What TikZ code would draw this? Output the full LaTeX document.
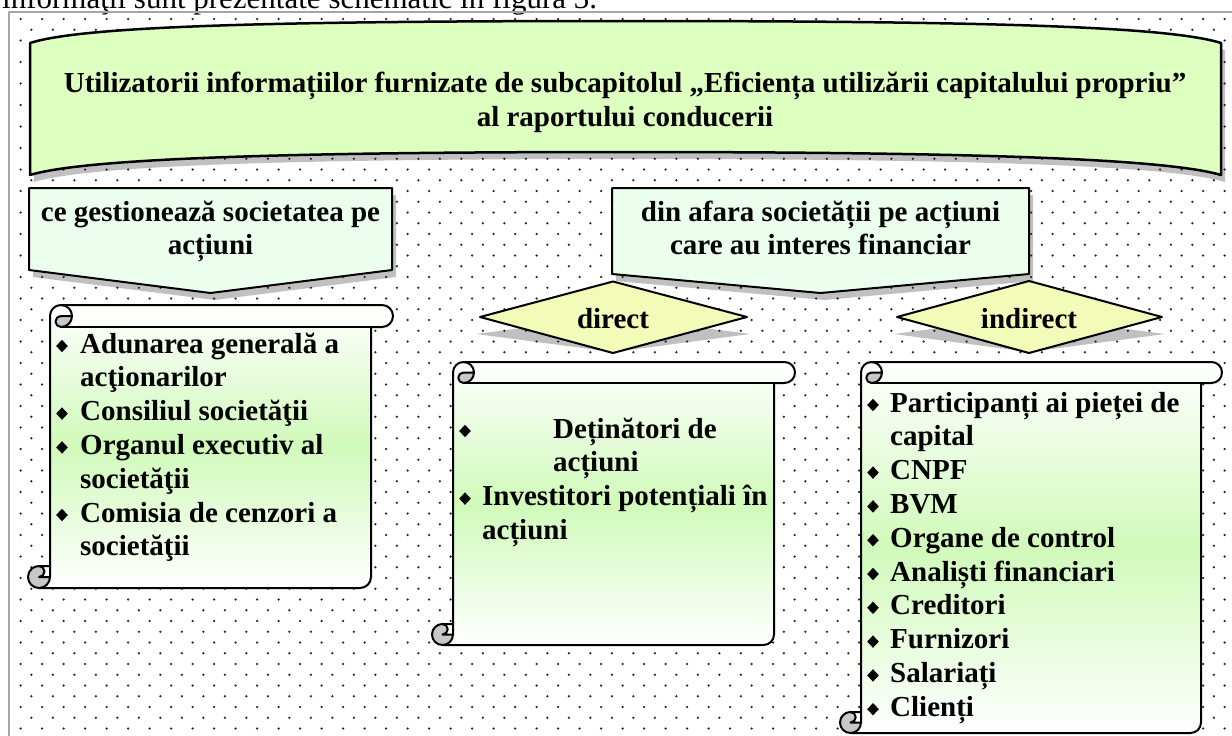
\documentclass[tikz,border=0pt]{standalone}
\usepackage{fontspec}
\setmainfont{Liberation Serif}
\definecolor{bannerfill}{RGB}{221,255,192}
\definecolor{calloutfill}{RGB}{236,255,238}
\definecolor{diafill}{RGB}{243,251,184}
\definecolor{scrollgreen}{RGB}{208,250,186}
\definecolor{shadowgray}{RGB}{192,192,192}
\definecolor{framegray}{RGB}{165,165,165}
\definecolor{dotcol}{RGB}{35,35,35}
\definecolor{curlgray}{RGB}{200,200,200}
\tikzset{
  txt/.style={font=\fontsize{29}{33.8}\selectfont\bfseries, inner sep=0pt},
  shapeline/.style={draw=black, line width=2},
  shadowfill/.style={fill=shadowgray},
}
\newcommand\myscroll[5]{%
  \pgfmathsetmacro\scrh{#5/2}%
  \pgfmathsetmacro\scrq{#5/4}%
  \pgfmathsetmacro\scxa{#1+#5/2}%
  \pgfmathsetmacro\scxb{#1+#5}%
  \pgfmathsetmacro\scxc{#1+1.5*#5}%
  \pgfmathsetmacro\scxd{#1+2*#5}%
  \pgfmathsetmacro\scxe{#3-#5}%
  \pgfmathsetmacro\scxg{#3-#5/2}%
  \pgfmathsetmacro\scya{#2+#5/2}%
  \pgfmathsetmacro\scyb{#2+#5}%
  \pgfmathsetmacro\scyd{#4-#5}%
  \pgfmathsetmacro\scye{#4-#5/2}%
  \shade[top color=white,bottom color=white,middle color=scrollgreen]
    (\scxb,\scyd) -- (\scxb,\scya) arc[start angle=180,end angle=270,radius=\scrh]
    -- (\scxg,#2) arc[start angle=270,end angle=450,radius=\scrh]
    -- (\scxe,\scyb) -- (\scxe,\scye) arc[start angle=0,end angle=90,radius=\scrh]
    -- (\scxa,#4) arc[start angle=90,end angle=270,radius=\scrh] -- cycle;
  \fill[curlgray] (\scxc,\scyb) arc[start angle=90,end angle=270,radius=\scrq]
    -- (\scxd,\scya) arc[start angle=0,end angle=90,radius=\scrh] -- cycle;
  \fill[curlgray] (\scxa,\scyd) arc[start angle=270,end angle=90,radius=\scrh]
    arc[start angle=90,end angle=0,radius=\scrh] -- (\scxa,\scye)
    arc[start angle=90,end angle=-90,radius=\scrq] -- cycle;
  \draw[shapeline]
    (\scxb,\scyd) -- (\scxb,\scya) arc[start angle=180,end angle=270,radius=\scrh]
    -- (\scxg,#2) arc[start angle=270,end angle=450,radius=\scrh]
    -- (\scxe,\scyb) -- (\scxe,\scye) arc[start angle=0,end angle=90,radius=\scrh]
    -- (\scxa,#4) arc[start angle=90,end angle=270,radius=\scrh] -- cycle;
  \draw[shapeline] (\scxc,#2) arc[start angle=270,end angle=450,radius=\scrh]
    arc[start angle=90,end angle=270,radius=\scrq] -- (\scxd,\scya);
  \draw[shapeline] (\scxc,\scyb) -- (\scxe,\scyb);
  \draw[shapeline] (\scxa,\scyd) arc[start angle=-90,end angle=90,radius=\scrq] -- (\scxb,\scye);
  \draw[shapeline] (\scxb,\scyd) -- (\scxb,\scye) arc[start angle=0,end angle=90,radius=\scrh];
}
\newcommand\mybullet[2]{\fill (#1-5.8,#2-7) -- (#1,#2-13.2) -- (#1+5.8,#2-7) -- (#1,#2-0.8) -- cycle;}
\begin{document}
\begin{tikzpicture}[x=1pt,y=-1pt,line join=round]
\useasboundingbox (0,0) rectangle (1232,736);
\fill[white] (0,0) rectangle (1232,736);
% intro line (cut by the page top, as in the reference)
\node[anchor=base west, inner sep=0pt, font=\fontsize{31}{36}\selectfont] (intro) at (2,9) {informaţii sunt prezentate schematic în figura 3.};
% frame
\draw[framegray, line width=2] (9,760) -- (9,12) -- (1260,12);
% shadows
\fill[shadowfill] ([shift={(4,7)}]30,43) .. controls ([shift={(4,7)}]80,27) and ([shift={(4,7)}]250,21) .. ([shift={(4,7)}]625,21)
  .. controls ([shift={(4,7)}]1000,21) and ([shift={(4,7)}]1170,27) .. ([shift={(4,7)}]1221,43)
  -- ([shift={(4,7)}]1221,175) .. controls ([shift={(4,7)}]1170,160) and ([shift={(4,7)}]1000,152) .. ([shift={(4,7)}]625,152)
  .. controls ([shift={(4,7)}]250,152) and ([shift={(4,7)}]80,160) .. ([shift={(4,7)}]30,175) -- cycle;
\fill[shadowfill] (33,195) -- (396,195) -- (396,277) -- (214.5,300) -- (33,277) -- cycle;
\fill[shadowfill] (616,195) -- (1033,195) -- (1033,281) -- (824.5,300) -- (616,281) -- cycle;
\fill[shadowfill] (476,334) -- (613,316) -- (750,334) -- (613,352) -- cycle;
\fill[shadowfill] (894,334) -- (1029,316) -- (1165,334) -- (1029,352) -- cycle;
% dotted background
\fill[dotcol] \foreach \j in {0,...,33} { \foreach \k in {0,...,56} { ({20.7+21.5*\k},{19+21.5*\j}) circle[radius=1.25] } };
\fill[dotcol] \foreach \j in {0,...,32} { \foreach \k in {0,...,55} { ({31.45+21.5*\k},{29.75+21.5*\j}) circle[radius=1.25] } };
% banner
\filldraw[fill=bannerfill, draw=black, line width=2.5] (30,43) .. controls (80,27) and (250,21) .. (625,21)
  .. controls (1000,21) and (1170,27) .. (1221,43)
  -- (1221,175) .. controls (1170,160) and (1000,152) .. (625,152)
  .. controls (250,152) and (80,160) .. (30,175) -- cycle;
\node[txt, anchor=base] (title1) at (625,92) {Utilizatorii informațiilor furnizate de subcapitolul „Eficiența utilizării capitalului propriu”};
\node[txt, anchor=base] (title2) at (625,126) {al raportului conducerii};
% callouts
\filldraw[fill=calloutfill, shapeline] (29,188) -- (392,188) -- (392,270) -- (210.5,293) -- (29,270) -- cycle;
\node[txt, anchor=base] (cl1) at (210.5,221) {ce gestionează societatea pe};
\node[txt, anchor=base] (cl2) at (210.5,254) {acțiuni};
\filldraw[fill=calloutfill, shapeline] (612,188) -- (1029,188) -- (1029,274) -- (820.5,293) -- (612,274) -- cycle;
\node[txt, anchor=base] (cr1) at (820.5,221) {din afara societății pe acțiuni};
\node[txt, anchor=base] (cr2) at (820.5,254) {care au interes financiar};
% diamonds
\filldraw[fill=diafill, shapeline] (480,317) -- (613,281.5) -- (747,317) -- (613,353) -- cycle;
\node[txt, anchor=base] (dtxt) at (613,328) {direct};
\filldraw[fill=diafill, shapeline] (897,317) -- (1029,281) -- (1162,317) -- (1029,353) -- cycle;
\node[txt, anchor=base] (itxt) at (1029,328) {indirect};
% scrolls
\myscroll{28}{305}{393}{588}{22}
\myscroll{432}{362}{795}{645}{21}
\myscroll{840}{362}{1222}{733}{21}
% left scroll text
\mybullet{62}{353}
\node[txt, anchor=base west] (L1) at (80,353) {Adunarea generală a};
\node[txt, anchor=base west] (L2) at (80,386.8) {acţionarilor};
\mybullet{62}{420.6}
\node[txt, anchor=base west] (L3) at (80,420.6) {Consiliul societăţii};
\mybullet{62}{454.4}
\node[txt, anchor=base west] (L4) at (80,454.4) {Organul executiv al};
\node[txt, anchor=base west] (L5) at (80,488.2) {societăţii};
\mybullet{62}{522}
\node[txt, anchor=base west] (L6) at (80,522) {Comisia de cenzori a};
\node[txt, anchor=base west] (L7) at (80,555.8) {societăţii};
% middle scroll text
\mybullet{465}{438}
\node[txt, anchor=base west] (M1) at (553,438) {Deținători de};
\node[txt, anchor=base west] (M2) at (553,471.8) {acțiuni};
\mybullet{465}{505.6}
\node[txt, anchor=base west] (M3) at (482,505.6) {Investitori potențiali în};
\node[txt, anchor=base west] (M4) at (482,539.4) {acțiuni};
% right scroll text
\mybullet{873}{412}
\node[txt, anchor=base west] (R1) at (890,412) {Participanți ai pieței de};
\node[txt, anchor=base west] (R2) at (890,445.8) {capital};
\mybullet{873}{479.6}
\node[txt, anchor=base west] (R3) at (890,479.6) {CNPF};
\mybullet{873}{513.4}
\node[txt, anchor=base west] (R4) at (890,513.4) {BVM};
\mybullet{873}{547.2}
\node[txt, anchor=base west] (R5) at (890,547.2) {Organe de control};
\mybullet{873}{581}
\node[txt, anchor=base west] (R6) at (890,581) {Analiști financiari};
\mybullet{873}{614.8}
\node[txt, anchor=base west] (R7) at (890,614.8) {Creditori};
\mybullet{873}{648.6}
\node[txt, anchor=base west] (R8) at (890,648.6) {Furnizori};
\mybullet{873}{682.4}
\node[txt, anchor=base west] (R9) at (890,682.4) {Salariați};
\mybullet{873}{716.2}
\node[txt, anchor=base west] (R10) at (890,716.2) {Clienți};
\end{tikzpicture}
\end{document}
